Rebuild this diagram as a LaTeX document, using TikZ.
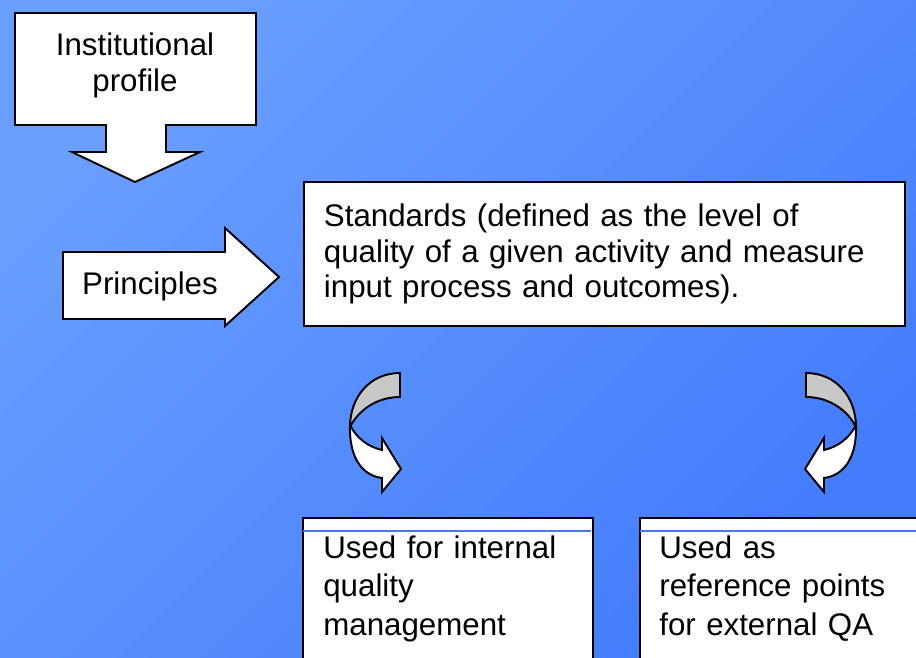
\documentclass[tikz,border=0pt]{standalone}
\usepackage{fontspec}
\setmainfont{Liberation Sans}
\usetikzlibrary{positioning}
\definecolor{slidetop}{RGB}{106,158,255}
\definecolor{slidebottom}{RGB}{66,124,252}
\definecolor{bendgray}{RGB}{200,200,200}
\definecolor{ruleblue}{RGB}{70,120,230}

\tikzset{
  shapeline/.style={draw=black,line width=1.1pt,fill=white},
  textbox/.style={draw=black,line width=1.1pt,fill=white},
  slidetext/.style={font=\fontsize{17.8}{#1}\selectfont,inner sep=0pt},
  slidetext/.default=21,
  pics/bendarrow/.style={code={
    \draw[shapeline,fill=bendgray] (0,0) .. controls (-30,0) and (-50,24) .. (-50,54)
      .. controls (-42,38) and (-24,24) .. (0,24) -- cycle;
    \draw[shapeline] (-50,52) .. controls (-43,66) and (-31,74) .. (-18,77) -- (-18,65)
      -- (1,96) -- (-18,119) -- (-18,105) .. controls (-41,102) and (-51,80) .. (-50,52) -- cycle;
  }}
}

\begin{document}
\begin{tikzpicture}[x=0.02cm,y=-0.02cm]
\useasboundingbox (0,0) rectangle (916,657);
\shade[top color=slidetop,bottom color=slidebottom,shading angle=45] (0,0) rectangle (916,657);

% profile callout
\draw[shapeline] (15,13) -- (256,13) -- (256,125) -- (166,125) -- (166,152) -- (200,152)
  -- (135,182) -- (72,152) -- (106,152) -- (106,125) -- (15,125) -- cycle;
\node[slidetext,text width=4cm,align=center,anchor=base] (profile) at (135,55) {Institutional\\profile};

% principles arrow
\draw[shapeline] (63,252) -- (225,252) -- (225,228) -- (279,277) -- (225,326) -- (225,319)
  -- (63,319) -- cycle;
\node[slidetext,anchor=base] (principles) at (150,294) {Principles};

% standards
\node[textbox,slidetext=20,anchor=north west,minimum width=12.02cm,minimum height=2.88cm,
  text width=11.22cm,inner xsep=0.4cm,align=left] (standards) at (303,181)
  {Standards (defined as the level of\\quality of a given activity and measure\\input process and outcomes).};

% curved arrows
\pic at (400,373) {bendarrow};
\pic[xscale=-1] at (806,373) {bendarrow};

% lower boxes
\node[textbox,anchor=north west,minimum width=5.8cm,minimum height=4cm] (intbox) at (302,517) {};
\node[textbox,anchor=north west,minimum width=6cm,minimum height=4cm] (extbox) at (639,517) {};
\draw[ruleblue,line width=0.6pt] (303,531) -- (591,531);
\draw[ruleblue,line width=0.6pt] (640,531) -- (916,531);
\node[slidetext=22,text width=5cm,align=left,anchor=base west] (inttext) at (323,558)
  {Used for internal\\quality\\management};
\node[slidetext=22,text width=5cm,align=left,anchor=base west] (exttext) at (659,558)
  {Used as\\reference points\\for external QA};
\end{tikzpicture}
\end{document}
